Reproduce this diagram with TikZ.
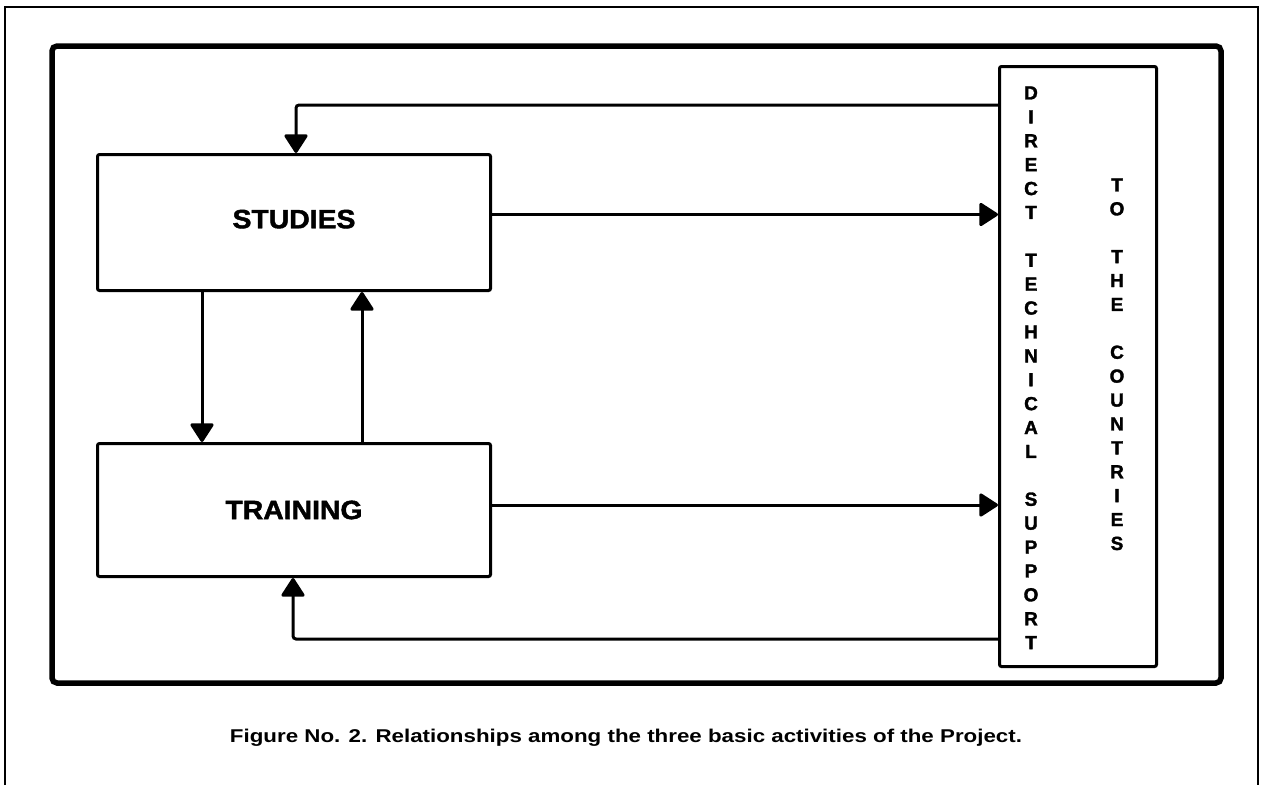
\documentclass[tikz,border=0pt]{standalone}
\usepackage{fontspec}
\setmainfont{Liberation Sans}[BoldFeatures={FakeBold=1.6}]
\newfontfamily\capfont{Liberation Sans Bold}
\usetikzlibrary{arrows.meta}
\begin{document}
\begin{tikzpicture}[x=1pt,y=-1pt,
  box/.style={draw, line width=3pt, rounded corners=2pt, inner sep=0pt},
  boxtext/.style={font=\bfseries\fontsize{26.5}{30}\selectfont},
  conn/.style={line width=3pt, rounded corners=3pt},
  tip/.style={-{Triangle[length=20pt,width=25pt,round]}},
  column/.style={anchor=north, inner sep=0pt, align=center, font=\bfseries\fontsize{19}{23.9}\selectfont}]
\useasboundingbox (0,0) rectangle (1264,785);
% frames
\draw[line width=2.6pt] (5,785) -- (5,7) -- (1258,7) -- (1258,785);
\draw[line width=5.5pt, rounded corners=5pt] (52,46) rectangle (1221,683);
% boxes
\node[box, boxtext, anchor=north west, minimum width=393pt, minimum height=136pt, text depth=7pt] (studies) at (96,153) {\scalebox{1.07}[1]{STUDIES}};
\node[box, boxtext, anchor=north west, minimum width=393pt, minimum height=133pt] (training) at (96,442) {\scalebox{1.07}[1]{TRAINING}};
\node[box, anchor=north west, minimum width=157pt, minimum height=600pt] (dts) at (998,65) {};
\node[column] (col1) at (1031,86.2) {D\\I\\R\\E\\C\\T\\[23.9pt]T\\E\\C\\H\\N\\I\\C\\A\\L\\[23.9pt]S\\U\\P\\P\\O\\R\\T};
\node[column] (col2) at (1117,178.2) {T\\O\\[23.9pt]T\\H\\E\\[23.9pt]C\\O\\U\\N\\T\\R\\I\\E\\S};
% connectors
\draw[conn,tip] ([yshift=-40pt]dts.north west) -| ([xshift=200pt]studies.north west);
\draw[conn,tip] ([yshift=29pt]dts.south west) -| ([xshift=197pt]training.south west);
\path ([yshift=8pt]studies.east) coordinate (s1);
\draw[conn,tip] (s1) -- (s1 -| dts.west);
\path ([yshift=5pt]training.east) coordinate (t1);
\draw[conn,tip] (t1) -- (t1 -| dts.west);
\path ([xshift=106pt]studies.south west) coordinate (d1);
\draw[conn,tip] (d1) -- (d1 |- training.north);
\path ([xshift=266pt]training.north west) coordinate (u1);
\draw[conn,tip] (u1) -- (u1 |- studies.south);
% caption
\node[anchor=base, inner sep=0pt, font=\capfont\fontsize{18.5}{21}\selectfont] (caption) at (626,742.5) {\resizebox{792pt}{\height}{Figure No. 2. Relationships among the three basic activities of the Project.}};
\end{tikzpicture}
\end{document}
